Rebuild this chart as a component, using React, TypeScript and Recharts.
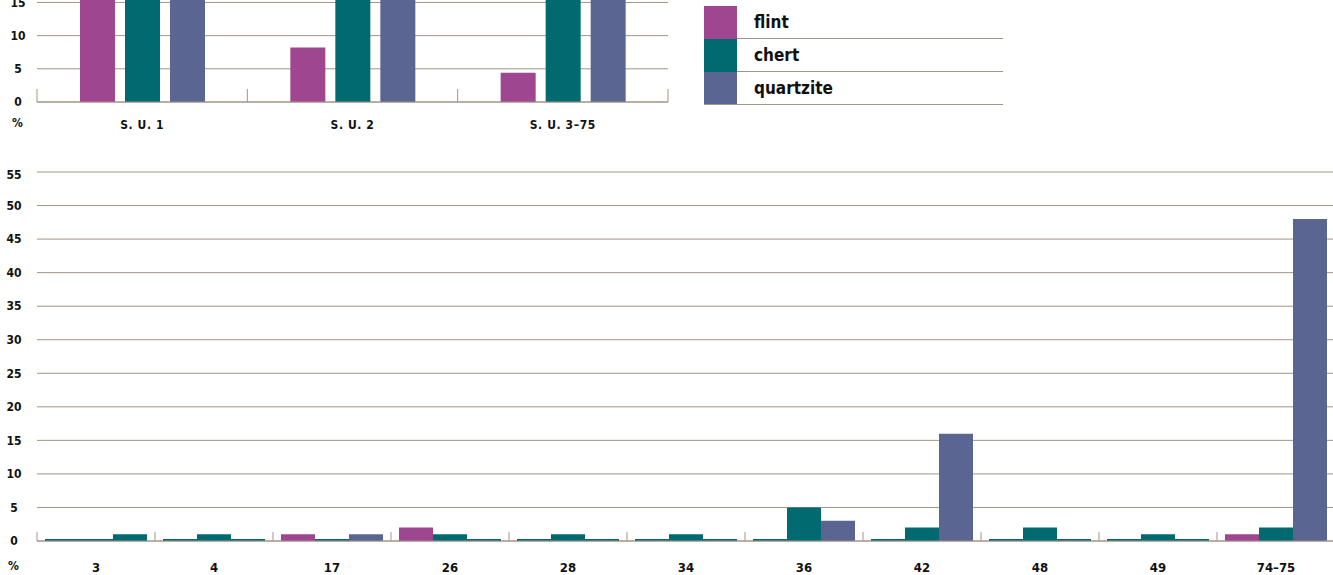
import { BarChart, Bar, XAxis, YAxis, CartesianGrid, Cell } from 'recharts';

const FONT = "'DejaVu Sans Condensed', 'Liberation Sans Narrow', 'Noto Sans', sans-serif";
const FLINT = '#9e4690';
const CHERT = '#006a70';
const QUARTZITE = '#5b6591';
const GRID = '#a39486';

// upper chart: per stratigraphic unit (only 0–15 is visible, the tops run off the page)
const unitCategories = ['S. U. 1', 'S. U. 2', 'S. U. 3–75'];
const unitFlint = [28, 8.2, 4.4];
const unitChert = [37, 45, 20];
const unitQuartzite = [35, 46.8, 75.6];
const unitTicks = [0, 5, 10, 15];

// lower chart: per layer
const layerCategories = ['3', '4', '17', '26', '28', '34', '36', '42', '48', '49', '74–75'];
const layerFlint = [0, 0, 1, 2, 0, 0, 0, 0, 0, 0, 1];
const layerChert = [0, 1, 0, 1, 1, 1, 5, 2, 2, 1, 2];
const layerQuartzite = [1, 0, 1, 0, 0, 0, 3, 16, 0, 0, 48];
const layerTicks = [0, 5, 10, 15, 20, 25, 30, 35, 40, 45, 50, 55];
// the quartzite slot of layer 3 is printed in chert colour in the original
const layerQuartziteColors = [CHERT];

const series = [
  { key: 'flint', name: 'flint', color: FLINT },
  { key: 'chert', name: 'chert', color: CHERT },
  { key: 'quartzite', name: 'quartzite', color: QUARTZITE },
];

const unitData = unitCategories.map((name, i) => ({
  name,
  flint: unitFlint[i],
  chert: unitChert[i],
  quartzite: unitQuartzite[i],
}));

const layerData = layerCategories.map((name, i) => ({
  name,
  flint: layerFlint[i],
  chert: layerChert[i],
  quartzite: layerQuartzite[i],
}));

const tickText = { fontFamily: FONT, fontWeight: 700, fontSize: 12, fill: '#111' };

// category label plus the short separator ticks that stand on the axis between groups
function groupTick(band: number, margin: number, len: number, count: number, fontSize: number, spacing: number) {
  return (props: any) => {
    const { x, y, payload } = props;
    const index = props.index ?? payload.index;
    const axisY = y - margin;
    const left = x - band / 2;
    return (
      <g>
        <line x1={left} x2={left} y1={axisY} y2={axisY - len} stroke={GRID} />
        {index === count - 1 && (
          <line x1={left + band} x2={left + band} y1={axisY} y2={axisY - len} stroke={GRID} />
        )}
        <text
          x={x}
          y={y}
          dy="0.71em"
          textAnchor="middle"
          fontFamily={FONT}
          fontWeight={700}
          fontSize={fontSize}
          letterSpacing={spacing}
          fill="#111"
        >
          {payload.value}
        </text>
      </g>
    );
  };
}

function KeyBox() {
  return (
    <div style={{ position: 'absolute', left: 704, top: 6, width: 299, fontFamily: FONT }}>
      {series.map((s, i) => {
        const last = i === series.length - 1;
        return (
          <div
            key={s.key}
            style={{
              display: 'flex',
              height: 33,
              boxSizing: 'border-box',
              borderBottom: last ? `1px solid ${GRID}` : 'none',
            }}
          >
            <div style={{ width: 33, height: last ? 32 : 33, background: s.color }} />
            <div
              style={{
                flex: 1,
                boxSizing: 'border-box',
                borderBottom: last ? 'none' : `1px solid ${GRID}`,
                paddingLeft: 17,
                fontWeight: 700,
                fontSize: 17,
                lineHeight: '32px',
                color: '#111',
              }}
            >
              {s.name}
            </div>
          </div>
        );
      })}
    </div>
  );
}

export default function App() {
  return (
    <div
      style={{
        position: 'absolute',
        left: 0,
        top: 0,
        width: 1333,
        height: 575,
        overflow: 'hidden',
        background: '#fff',
      }}
    >
      <div style={{ position: 'absolute', left: 0, top: -429 }}>
        <BarChart
          width={680}
          height={571}
          data={unitData}
          margin={{ top: 0, right: 12, bottom: 0, left: 0 }}
          barSize={35}
          barGap={10}
        >
          <CartesianGrid vertical={false} stroke={GRID} />
          <XAxis
            dataKey="name"
            height={40}
            axisLine={{ stroke: GRID }}
            tickLine={false}
            tickSize={0}
            tickMargin={18}
            interval={0}
            tick={groupTick(631 / 3, 18, 13, unitCategories.length, 12, 0.6)}
          />
          <YAxis
            width={37}
            domain={[0, 80]}
            ticks={unitTicks}
            axisLine={false}
            tickLine={false}
            tickSize={0}
            tickMargin={19}
            tick={{ ...tickText, textAnchor: 'middle' }}
          />
          {series.map((s) => (
            <Bar key={s.key} dataKey={s.key} name={s.name} fill={s.color} isAnimationActive={false} />
          ))}
        </BarChart>
      </div>

      <div style={{ position: 'absolute', left: 0, top: 167 }}>
        <BarChart
          width={1340}
          height={408}
          data={layerData}
          margin={{ top: 5, right: 5, bottom: 0, left: 0 }}
          barSize={34}
          barGap={0}
        >
          <CartesianGrid vertical={false} stroke={GRID} />
          <XAxis
            dataKey="name"
            height={34}
            axisLine={{ stroke: GRID }}
            tickLine={false}
            tickSize={0}
            tickMargin={22}
            interval={0}
            tick={groupTick(118, 22, 9, layerCategories.length, 13, 0)}
          />
          <YAxis
            width={37}
            domain={[0, 55]}
            ticks={layerTicks}
            axisLine={false}
            tickLine={false}
            tickSize={0}
            tickMargin={23}
            tick={{ ...tickText, textAnchor: 'middle' }}
          />
          <Bar dataKey="flint" fill={FLINT} minPointSize={2} isAnimationActive={false}>
            {layerFlint.map((v, i) => (
              <Cell key={i} fill={v === 0 ? CHERT : FLINT} />
            ))}
          </Bar>
          <Bar dataKey="chert" fill={CHERT} minPointSize={2} isAnimationActive={false} />
          <Bar dataKey="quartzite" fill={QUARTZITE} minPointSize={2} isAnimationActive={false}>
            {layerQuartzite.map((v, i) => (
              <Cell key={i} fill={v === 0 ? CHERT : layerQuartziteColors[i] || QUARTZITE} />
            ))}
          </Bar>
        </BarChart>
      </div>

      <div style={{ position: 'absolute', left: 12, top: 116, fontFamily: FONT, fontWeight: 700, fontSize: 12, color: '#111' }}>%</div>
      <div style={{ position: 'absolute', left: 8, top: 559, fontFamily: FONT, fontWeight: 700, fontSize: 12, color: '#111' }}>%</div>

      <KeyBox />
    </div>
  );
}
